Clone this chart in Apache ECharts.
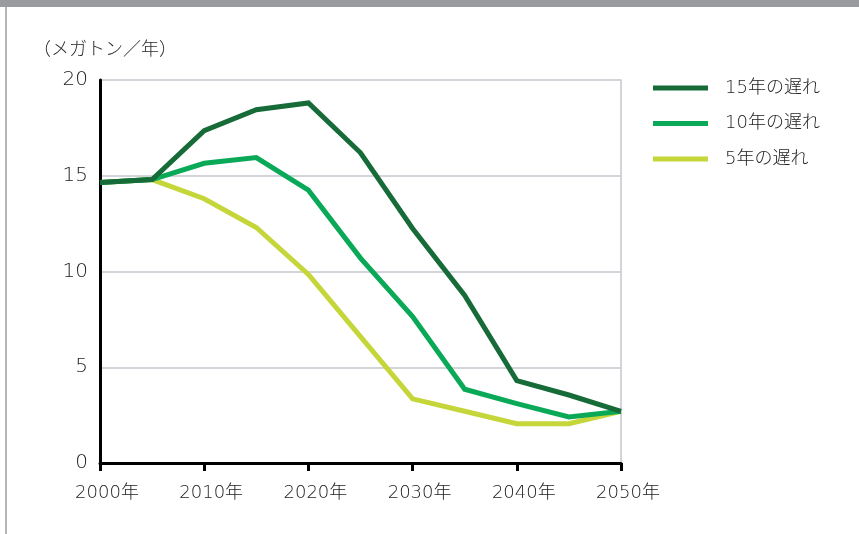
<!DOCTYPE html>
<html>
<head>
<meta charset="utf-8">
<script src="https://cdn.jsdelivr.net/npm/echarts@6/dist/echarts.min.js"></script>
<style>
  html, body { margin: 0; padding: 0; background: #fff; }
  #frame { position: absolute; left: 0; top: 0; width: 859px; height: 534px; }
  #topbar { position: absolute; left: 0; top: 0; width: 859px; height: 7px; background: #9a9b9f; }
  #leftbar { position: absolute; left: 5px; top: 7px; width: 2px; height: 527px; background: #b4b5b8; }
  #chart { position: absolute; left: 0; top: 0; width: 859px; height: 534px; }
</style>
</head>
<body>
<div id="frame">
  <div id="topbar"></div>
  <div id="leftbar"></div>
  <div id="chart"></div>
</div>
<script>
  const years = [2000, 2005, 2010, 2015, 2020, 2025, 2030, 2035, 2040, 2045, 2050];
  const delay15 = [14.65, 14.8, 17.35, 18.45, 18.8, 16.2, 12.25, 8.75, 4.3, 3.55, 2.7];
  const delay10 = [14.65, 14.8, 15.65, 15.95, 14.25, 10.7, 7.65, 3.85, 3.1, 2.4, 2.7];
  const delay5 = [14.65, 14.8, 13.8, 12.3, 9.85, 6.6, 3.35, 2.7, 2.05, 2.05, 2.7];
  const seriesNames = ["15年の遅れ", "10年の遅れ", "5年の遅れ"];
  const colors = ["#176b38", "#0aa957", "#c5d63a"];
  const yTicks = [0, 5, 10, 15, 20];

  // wide digits like the original, CJK falls back to Noto
  const font = "'DejaVu Sans', 'Noto Sans CJK JP', sans-serif";
  const jpFont = "'Noto Sans CJK JP', sans-serif";
  const chart = echarts.init(document.getElementById("chart"), null, { renderer: "canvas" });

  const pairs = (vals) => vals.map((v, i) => [years[i], v]);
  const allData = [delay15, delay10, delay5];

  const option = {
    animation: false,
    textStyle: { fontFamily: font },
    grid: { left: 100, right: 238, top: 80, bottom: 71 },
    title: {
      text: "（メガトン／年）",
      left: 28,
      top: 34,
      textStyle: { fontFamily: jpFont, fontSize: 18, fontWeight: 300, color: "#2a2a2a" },
    },
    legend: {
      orient: "vertical",
      left: 648,
      top: 74,
      itemWidth: 55,
      itemHeight: 5,
      itemGap: 17.5,
      icon: "rect",
      data: seriesNames,
      textStyle: { fontFamily: font, fontSize: 18, fontWeight: 200, color: "#222", padding: [0, 0, 0, 12] },
    },
    xAxis: {
      type: "value",
      min: 2000,
      max: 2050,
      interval: 10,
      axisLine: { show: true, lineStyle: { color: "#000", width: 3 } },
      axisTick: { show: true, length: 8, lineStyle: { color: "#000", width: 3 } },
      splitLine: { show: false },
      axisLabel: {
        formatter: (v) => v + "年",
        color: "#222",
        fontSize: 18,
        fontWeight: 200,
        margin: 21,
        padding: [0, 0, 0, 14],
        fontFamily: font,
      },
    },
    yAxis: [
      {
        type: "value",
        min: yTicks[0],
        max: yTicks[yTicks.length - 1],
        interval: 5,
        axisLine: { show: true, lineStyle: { color: "#000", width: 3 } },
        axisTick: { show: false },
        splitLine: { show: true, lineStyle: { color: "#c5c6ce", width: 1.5 } },
        axisLabel: { color: "#222", fontSize: 20, fontWeight: 200, margin: 12, fontFamily: font },
      },
      {
        type: "value",
        position: "right",
        min: 0,
        max: 20,
        interval: 5,
        axisLine: { show: true, lineStyle: { color: "#c5c6ce", width: 1.5 } },
        axisTick: { show: false },
        axisLabel: { show: false },
        splitLine: { show: false },
      },
    ],
    series: seriesNames.map((name, i) => ({
      name: name,
      type: "line",
      yAxisIndex: 0,
      data: pairs(allData[i]),
      symbol: "none",
      z: 10 - i,
      color: colors[i],
      lineStyle: { color: colors[i], width: 5, join: "miter" },
    })),
  };

  chart.setOption(option);
</script>
</body>
</html>
